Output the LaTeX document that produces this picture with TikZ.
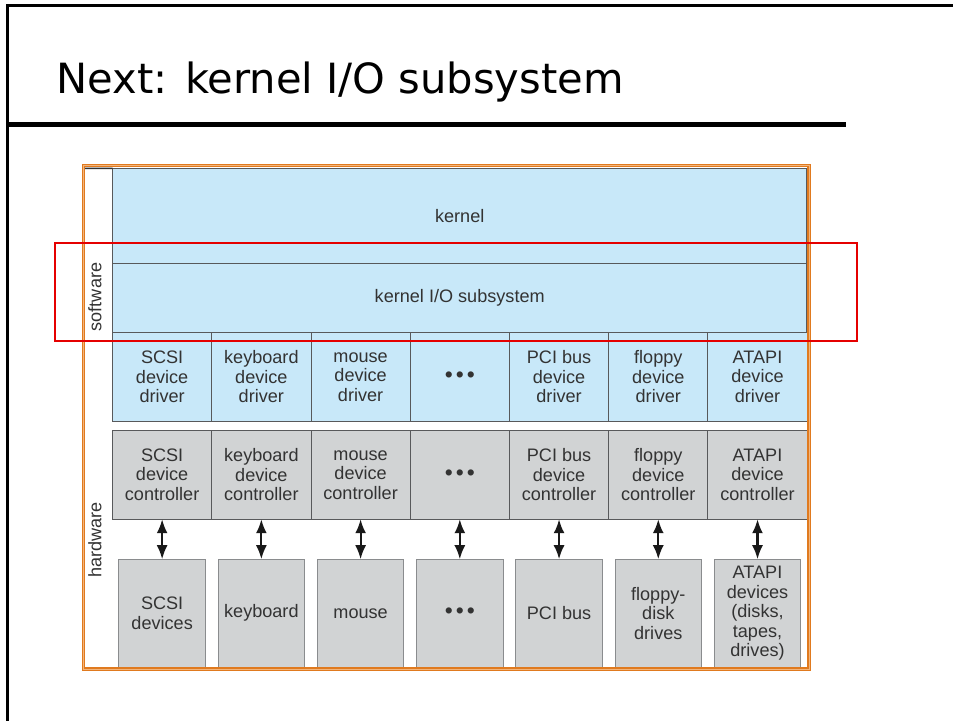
\documentclass[tikz,border=0pt]{standalone}
\usepackage{fontspec}
\setmainfont{Liberation Sans}
\newfontfamily\titlefont{DejaVu Sans}
\usetikzlibrary{positioning,arrows.meta}
\definecolor{swblue}{HTML}{C8E8F9}
\definecolor{hwgray}{HTML}{D1D3D4}
\definecolor{cellline}{HTML}{58595B}
\definecolor{devline}{HTML}{8A8C8E}
\definecolor{frameorange}{HTML}{E07A1F}
\definecolor{frameinner}{HTML}{F3B57C}
\newcommand{\threedots}{{\fontsize{13}{13}\selectfont\textbullet\hspace{1.7pt}\textbullet\hspace{1.7pt}\textbullet}}
\begin{document}
\begin{tikzpicture}[x=0.02cm,y=-0.02cm,>={Latex[length=2.8mm,width=2.2mm]},
	cell/.style={draw=cellline,line width=0.5pt,inner sep=0,outer sep=0,align=center,text=black!80,font=\fontsize{10.3}{11.1}\selectfont},
	layer/.style={cell,fill=swblue,minimum width=13.89cm},
	drv/.style={cell,fill=swblue,minimum width=1.985cm,minimum height=1.78cm},
	ctl/.style={cell,fill=hwgray,minimum width=1.985cm,minimum height=1.78cm},
	dev/.style={cell,fill=hwgray,draw=devline,minimum width=1.73cm,minimum height=2.16cm},
	side/.style={rotate=90,text=black!80,font=\fontsize{10.3}{11.1}\selectfont}]

	\useasboundingbox (0,0) rectangle (953,721);

	% slide border and title
	\draw[line width=0.06cm] (953,5.5) -- (7.5,5.5) -- (7.5,721);
	\node[anchor=base west,inner sep=0,font=\titlefont\fontsize{23.7}{28}\selectfont] (title) at (56,93) {Next: kernel I/O subsystem};
	\draw[line width=0.1cm] (7.5,124.5) -- (846,124.5);

	% software layers
	\node[layer,minimum height=1.9cm] (kernel) at (459.7,215.8) {kernel};
	\node[layer,minimum height=1.38cm] (kio) [below=0pt of kernel] {kernel I/O subsystem};
	\draw[line width=0.8pt,black!80] (85,168.3) -- (kernel.north west);

	\node[drv] (drv1) [below right=0pt of kio.south west] {SCSI\\device\\driver};
	\node[drv] (drv2) [right=0pt of drv1] {keyboard\\device\\driver};
	\node[drv] (drv3) [right=0pt of drv2] {mouse\\device\\driver};
	\node[drv] (drv4) [right=0pt of drv3] {\threedots};
	\node[drv] (drv5) [right=0pt of drv4] {PCI bus\\device\\driver};
	\node[drv] (drv6) [right=0pt of drv5] {floppy\\device\\driver};
	\node[drv] (drv7) [right=0pt of drv6] {ATAPI\\device\\driver};

	% hardware
	\node[ctl] (ctl1) [below=0.18cm of drv1] {SCSI\\device\\controller};
	\node[ctl] (ctl2) [right=0pt of ctl1] {keyboard\\device\\controller};
	\node[ctl] (ctl3) [right=0pt of ctl2] {mouse\\device\\controller};
	\node[ctl] (ctl4) [right=0pt of ctl3] {\threedots};
	\node[ctl] (ctl5) [right=0pt of ctl4] {PCI bus\\device\\controller};
	\node[ctl] (ctl6) [right=0pt of ctl5] {floppy\\device\\controller};
	\node[ctl] (ctl7) [right=0pt of ctl6] {ATAPI\\device\\controller};

	\node[dev] (dev1) [below=0.8cm of ctl1] {SCSI\\devices};
	\node[dev] (dev2) [below=0.8cm of ctl2] {keyboard};
	\node[dev] (dev3) [below=0.8cm of ctl3] {mouse};
	\node[dev] (dev4) [below=0.8cm of ctl4] {\threedots};
	\node[dev] (dev5) [below=0.8cm of ctl5] {PCI bus};
	\node[dev] (dev6) [below=0.8cm of ctl6] {floppy-\\disk\\drives};
	\node[dev] (dev7) [below=0.8cm of ctl7] {ATAPI\\devices\\(disks,\\tapes,\\drives)};

	\draw[<->,line width=1.2pt,black!90] (ctl1) -- (dev1);
	\draw[<->,line width=1.2pt,black!90] (ctl2) -- (dev2);
	\draw[<->,line width=1.2pt,black!90] (ctl3) -- (dev3);
	\draw[<->,line width=1.2pt,black!90] (ctl4) -- (dev4);
	\draw[<->,line width=1.2pt,black!90] (ctl5) -- (dev5);
	\draw[<->,line width=1.2pt,black!90] (ctl6) -- (dev6);
	\draw[<->,line width=1.2pt,black!90] (ctl7) -- (dev7);

	\node[side] (sw) at (95,297) {software};
	\node[side] (hw) at (95,540) {hardware};

	% white below the frame hides the device box bottoms
	\fill[white] (80,671) rectangle (815,700);
	\draw[frameorange,line width=0.025cm,double=frameinner,double distance=0.02cm] (83.7,165.5) rectangle (809,669);

	% highlight
	\draw[red!90!black,line width=0.03cm] (55,243) rectangle (857,341);

\end{tikzpicture}
\end{document}
